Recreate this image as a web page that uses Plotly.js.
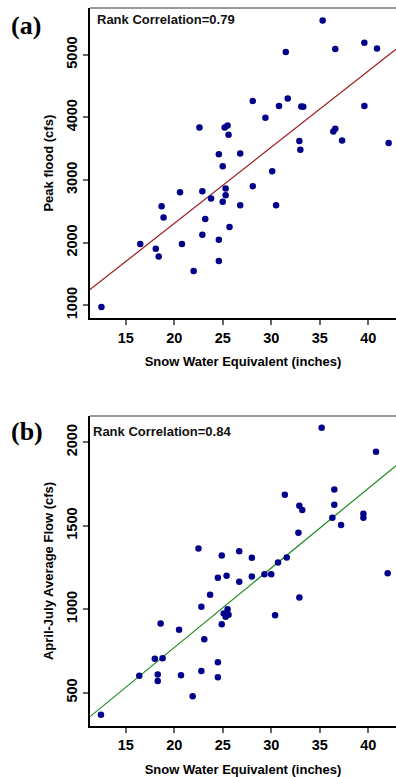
<!DOCTYPE html>
<html>
<head>
<meta charset="utf-8">
<script src="https://cdn.plot.ly/plotly-3.0.1.min.js"></script>
<style>html,body{margin:0;padding:0;background:#fff;}#chart{width:396px;height:777px;}</style>
</head>
<body>
<div id="chart"></div>
<script>
// Panel (a): Snow water equivalent vs peak flood
const sweA = [35.3, 39.6, 36.6, 40.9, 31.5, 28.1, 30.8, 31.7, 33.1, 33.3, 39.6, 29.4,
  22.6, 25.2, 25.5, 25.6, 36.6, 36.4, 37.3, 32.9, 33.0, 42.1, 24.6, 26.8, 25.0, 30.1,
  28.1, 22.9, 25.3, 25.3, 23.8, 25.0, 26.8, 30.5, 23.2, 22.9, 25.7, 24.6, 24.6, 22.0,
  20.6, 18.7, 18.9, 16.5, 18.1, 20.8, 18.4, 12.5];
const peakFlood = [5548, 5192, 5091, 5100, 5043, 4260, 4180, 4301, 4174, 4169, 4180, 3993,
  3838, 3838, 3870, 3721, 3817, 3774, 3630, 3621, 3482, 3589, 3413, 3423, 3221, 3141,
  2902, 2819, 2863, 2758, 2703, 2651, 2598, 2598, 2379, 2128, 2251, 2048, 1708, 1548,
  2806, 2582, 2400, 1980, 1904, 1980, 1777, 973];

// Panel (b): Snow water equivalent vs April-July average flow
const sweB = [35.2, 40.8, 36.5, 31.4, 32.9, 33.2, 36.5, 39.5, 39.5, 36.3, 37.2, 32.8,
  22.5, 24.9, 26.7, 28.0, 30.7, 31.6, 42.0, 24.5, 25.4, 26.7, 28.0, 29.3, 30.0,
  18.6, 20.5, 18.0, 18.8, 16.4, 18.3, 18.3, 20.7, 21.9, 12.45,
  23.7, 22.8, 25.5, 25.1, 25.6, 25.3, 24.9, 32.9, 30.4, 23.1, 24.5, 22.8, 24.5];
const ajFlow = [2088, 1944, 1718, 1686, 1620, 1594, 1626, 1572, 1548, 1548, 1504, 1458,
  1364, 1322, 1348, 1308, 1280, 1310, 1216, 1188, 1201, 1165, 1196, 1210, 1210,
  914, 877, 703, 706, 601, 608, 570, 604, 478, 368,
  1086, 1014, 1000, 974, 967, 954, 910, 1070, 964, 820, 682, 630, 592];

// Fitted lines (intercept, slope)
const fitA = [-127, 121.7];
const fitB = [-184, 47.7];
const corrLabels = ["Rank Correlation=0.79", "Rank Correlation=0.84"];
const panelLabels = ["(a)", "(b)"];
const xTicks = [15, 20, 25, 30, 35, 40];
const yTicksA = [1000, 2000, 3000, 4000, 5000];
const yTicksB = [500, 1000, 1500, 2000];

const xRange = [11.32, 42.86];
function lineXY(fit) {
  const xs = [xRange[0], xRange[1]];
  return {x: xs, y: xs.map(v => fit[0] + fit[1] * v)};
}
const lA = lineXY(fitA), lB = lineXY(fitB);

const navy = '#00008B';
const traces = [
  {x: lA.x, y: lA.y, xaxis: 'x', yaxis: 'y', mode: 'lines', line: {color: '#9B1B1B', width: 1.2}, hoverinfo: 'skip'},
  {x: sweA, y: peakFlood, xaxis: 'x', yaxis: 'y', mode: 'markers', marker: {color: navy, size: 6.5}},
  {x: lB.x, y: lB.y, xaxis: 'x2', yaxis: 'y2', mode: 'lines', line: {color: '#1E8C1E', width: 1.2}, hoverinfo: 'skip'},
  {x: sweB, y: ajFlow, xaxis: 'x2', yaxis: 'y2', mode: 'markers', marker: {color: navy, size: 6.5}}
];

const tickFont = {family: 'Liberation Sans, Arial, sans-serif', size: 14.5, color: '#000', weight: 'bold'};
const titleFont = {family: 'Liberation Sans, Arial, sans-serif', size: 13, color: '#000', weight: 'bold'};

function xAxis(anchor) {
  return {
    anchor: anchor, domain: [0, 1], range: xRange, tickvals: xTicks,
    showgrid: false, zeroline: false, showline: true, linecolor: '#000', linewidth: 2,
    ticks: 'outside', ticklen: 5, tickwidth: 2, tickcolor: '#666',
    tickfont: tickFont,
    title: {text: 'Snow Water Equivalent (inches)', font: titleFont, standoff: 12}
  };
}
function yAxis(anchor, domain, range, vals, title) {
  return {
    anchor: anchor, domain: domain, range: range, tickvals: vals,
    showgrid: false, zeroline: false, showline: true, linecolor: '#000', linewidth: 2,
    ticks: 'outside', ticklen: 5, tickwidth: 2, tickcolor: '#666',
    tickangle: -90, tickfont: tickFont,
    title: {text: title, font: titleFont, standoff: 8}
  };
}

const layout = {
  width: 396, height: 777,
  margin: {l: 90, r: 0, t: 8, b: 51},
  paper_bgcolor: '#fff', plot_bgcolor: '#fff',
  showlegend: false,
  xaxis: xAxis('y'),
  yaxis: yAxis('x', [0.5678, 1], [792, 5746], yTicksA, 'Peak flood (cfs)'),
  xaxis2: xAxis('y2'),
  yaxis2: yAxis('x2', [0, 0.4318], [300, 2158], yTicksB, 'April-July Average Flow (cfs)'),
  shapes: [
    {type: 'line', xref: 'x domain', yref: 'y domain', x0: 0, x1: 1, y0: 1, y1: 1, line: {color: '#777', width: 1.5}},
    {type: 'line', xref: 'x2 domain', yref: 'y2 domain', x0: 0, x1: 1, y0: 1, y1: 1, line: {color: '#777', width: 1.5}}
  ],
  annotations: [
    {text: corrLabels[0], xref: 'x domain', yref: 'y domain', x: 0.015, y: 0.962, xanchor: 'left', yanchor: 'middle', showarrow: false, font: {family: 'Liberation Sans, Arial, sans-serif', size: 13, color: '#111', weight: 'bold'}},
    {text: corrLabels[1], xref: 'x2 domain', yref: 'y2 domain', x: 0.003, y: 0.949, xanchor: 'left', yanchor: 'middle', showarrow: false, font: {family: 'Liberation Sans, Arial, sans-serif', size: 13, color: '#111', weight: 'bold'}},
    {text: panelLabels[0], xref: 'paper', yref: 'paper', x: -0.265, y: 0.9763, xanchor: 'left', yanchor: 'middle', showarrow: false, font: {family: 'Liberation Serif, Times New Roman, serif', size: 26, color: '#000', weight: 'bold'}},
    {text: panelLabels[1], xref: 'paper', yref: 'paper', x: -0.265, y: 0.4095, xanchor: 'left', yanchor: 'middle', showarrow: false, font: {family: 'Liberation Serif, Times New Roman, serif', size: 26, color: '#000', weight: 'bold'}}
  ]
};

Plotly.newPlot('chart', traces, layout, {displayModeBar: false, staticPlot: true});
</script>
</body>
</html>
